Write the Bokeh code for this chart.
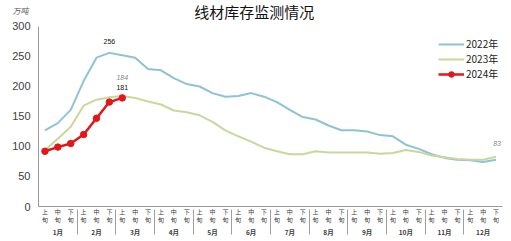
from bokeh.plotting import figure
from bokeh.models import FactorRange, Range1d, FixedTicker, LinearAxis, Legend, LegendItem
from bokeh.core.properties import value
from bokeh.embed import file_html
from bokeh.resources import INLINE

months = ["1月", "2月", "3月", "4月", "5月", "6月", "7月", "8月", "9月", "10月", "11月", "12月"]
xun = ["上\n旬", "中\n旬", "下\n旬"]
y_ticks = [0, 50, 100, 150, 200, 250, 300]
title_text = "线材库存监测情况"
unit_text = "万吨"

s2022 = [127, 139, 161, 209, 248, 256, 252, 248, 229, 227, 214, 204,
         200, 189, 183, 184, 189, 183, 174, 161, 149, 145, 135, 127,
         127, 125, 119, 117, 103, 96, 87, 81, 78, 77, 74, 78]
s2023 = [94, 113, 133, 168, 178, 182, 184, 181, 175, 170, 160, 157,
         152, 141, 127, 117, 108, 98, 92, 87, 87, 92, 90, 90,
         90, 90, 88, 89, 94, 91, 85, 82, 79, 78, 78, 83]
s2024 = [92, 99, 105, 120, 147, 174, 181]

factors = [(m, x) for m in months for x in xun]

CJK = "Noto Sans CJK SC"
LAT = "Liberation Sans"

p = figure(width=511, height=241,
           x_range=FactorRange(*factors, group_padding=0, factor_padding=0, range_padding=0),
           y_range=Range1d(0, 343.3),
           output_backend="svg", toolbar_location=None,
           min_border_left=38, min_border_right=9, min_border_top=0, min_border_bottom=35)
p.outline_line_color = None
p.grid.visible = False

c22 = "#8ec2d5"
c23 = "#c8d89c"
c24 = "#e3161c"

r22 = p.line(factors, s2022, line_color=c22, line_width=2)
r23 = p.line(factors, s2023, line_color=c23, line_width=2)
r24 = p.line(factors[:len(s2024)], s2024, line_color=c24, line_width=2.5)
r24m = p.scatter(factors[:len(s2024)], s2024, size=6.5, fill_color=c24, line_color=c24)

# title inside the (extended) frame
p.text([factors[16]], [325], text=[title_text], text_font_size="15px", text_color="#111111",
       text_align="center", text_baseline="middle", x_offset=3, text_font=value(CJK))

# data labels
p.text([factors[5]], [s2022[5]], text=[str(s2022[5])], text_font_size="7px", text_color="#111111",
       text_align="center", text_baseline="middle", y_offset=-11, text_font=value(LAT))
p.text([factors[6]], [s2023[6]], text=[str(s2023[6])], text_font_size="7px", text_color="#888888",
       text_font_style="italic", text_align="center", text_baseline="middle", y_offset=-19, text_font=value(LAT))
p.text([factors[6]], [s2024[6]], text=[str(s2024[6])], text_font_size="7px", text_color="#111111",
       text_align="center", text_baseline="middle", y_offset=-10, text_font=value(LAT))
p.text([factors[35]], [s2023[35]], text=[str(s2023[35])], text_font_size="7px", text_color="#888888",
       text_font_style="italic", text_align="center", text_baseline="middle", y_offset=-13, x_offset=1,
       text_font=value(LAT))

# y axis
ya = p.yaxis[0]
ya.bounds = (0, 300)
ya.ticker = FixedTicker(ticks=y_ticks)
ya.major_label_text_font = LAT
ya.major_label_text_font_size = "11px"
ya.major_label_text_color = "#404040"
ya.major_tick_line_color = None
ya.major_tick_out = 0
ya.major_tick_in = 0
ya.minor_tick_line_color = None
ya.axis_line_color = "#9a9a9a"
ya.major_label_standoff = 8

# unit axis (outer, label only)
ua = LinearAxis(ticker=FixedTicker(ticks=[327]), major_label_overrides={327: unit_text},
                axis_line_color=None, major_tick_line_color=None, minor_tick_line_color=None,
                major_tick_out=0, major_tick_in=0, major_label_standoff=-19,
                major_label_text_font=CJK, major_label_text_font_size="8px",
                major_label_text_color="#555555", major_label_text_font_style="italic")
p.add_layout(ua, "left")

# x axis
xa = p.xaxis[0]
xa.axis_line_color = "#9a9a9a"
xa.major_tick_line_color = "#c0c0c0"
xa.major_tick_out = 0
xa.major_tick_in = 0
xa.major_label_text_font = CJK
xa.major_label_text_font_size = "6px"
xa.major_label_text_color = "#404040"
xa.major_label_text_line_height = 0.95
xa.major_label_standoff = 0
xa.group_text_font = CJK
xa.group_text_font_size = "6.5px"
xa.group_text_color = "#404040"
xa.separator_line_color = "#a0a0a0"
xa.separator_line_width = 1

legend = Legend(items=[LegendItem(label="2022年", renderers=[r22]),
                       LegendItem(label="2023年", renderers=[r23]),
                       LegendItem(label="2024年", renderers=[r24, r24m])],
                location=(400, 125), padding=0, margin=0, spacing=0,
                glyph_width=26, glyph_height=14, label_height=14, label_standoff=2,
                label_text_font=CJK, label_text_font_size="10px", label_text_color="#222222",
                background_fill_alpha=0, border_line_color=None)
p.add_layout(legend)

open("out.html", "w").write(file_html(p, INLINE))
